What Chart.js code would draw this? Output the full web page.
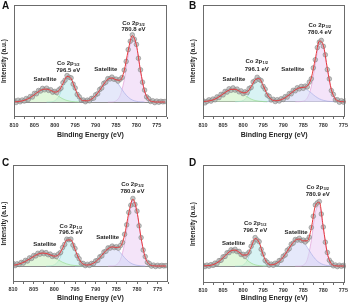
<!DOCTYPE html>
<html><head><meta charset="utf-8">
<script src="https://cdn.jsdelivr.net/npm/chart.js@4.4.1/dist/chart.umd.min.js"></script>
<style>
html,body{margin:0;padding:0;background:#fff;}
#wrap{position:relative;width:350px;height:303px;overflow:hidden;background:#fff;}
.pane{position:absolute;}
.letter{position:absolute;font:bold 10px "Liberation Sans",Arial,sans-serif;color:#111;line-height:10px;}
</style></head><body>
<div id="wrap">
<div class="pane" style="left:0;top:0;"><canvas id="cA" width="175" height="150"></canvas></div>
<div class="pane" style="left:175px;top:0;"><canvas id="cB" width="175" height="150"></canvas></div>
<div class="pane" style="left:0;top:150px;"><canvas id="cC" width="175" height="153"></canvas></div>
<div class="pane" style="left:175px;top:150px;"><canvas id="cD" width="175" height="153"></canvas></div>
<div class="letter" style="left:2px;top:1px">A</div>
<div class="letter" style="left:189px;top:1px">B</div>
<div class="letter" style="left:2px;top:158px">C</div>
<div class="letter" style="left:189px;top:158px">D</div>
</div>
<script>
const N = null;
// Binding energy grids (eV)
const energy = [810,809,808,807,806,805,804,803,802,801,800,799,798,797,796,795,794,793,792,791,790,789,788,787,786,785,784,783,782,781,780,779,778,777,776,775,774,773];
const energyFine = [810,809.5,809,808.5,808,807.5,807,806.5,806,805.5,805,804.5,804,803.5,803,802.5,802,801.5,801,800.5,800,799.5,799,798.5,798,797.5,797,796.5,796,795.5,795,794.5,794,793.5,793,792.5,792,791.5,791,790.5,790,789.5,789,788.5,788,787.5,787,786.5,786,785.5,785,784.5,784,783.5,783,782.5,782,781.5,781,780.5,780,779.5,779,778.5,778,777.5,777,776.5,776,775.5,775,774.5,774,773.5,773];
const majorTicks = [775,780,785,790,795,800,805,810];
const minorTicks = [772.5,777.5,782.5,787.5,792.5,797.5,802.5,807.5];

// ---- Panel A ----
const pointsA = [1.5,-0.5,1.8,0.2,2.0,1.0,3.5,2.6,5.5,5.0, 8.6,8.2,11.5,11.0,13.6,12.2,13.8,11.6,12.3,9.8, 10.6,9.4,12.2,13.8,19.3,21.8,26.4,24.8,24.1,17.9, 14.0,7.6,5.2,1.8,2.0,0.3,1.9,1.2,3.6,3.8, 7.2,8.3,12.5,14.0,18.6,19.8,23.4,23.0,24.9,22.7, 23.0,20.9,22.7,24.5,31.9,40.6,52.4,60.7,67.1,62.8, 57.6,43.7,32.2,19.8,11.9,5.1,3.3,0.5,1.3,-0.6, 0.9,-0.3,0.7,0.2,0.5];
const fitA = [0.1,0.4,1.1,2.4,4.5,7.4,10.4,12.5,12.9,11.6,9.9,11.4,18.3,25.5,23.4,13.2,4.5,1.3,1.2,2.9,6.4,11.7,17.8,22.6,24.0,22.2,21.8,31.1,51.7,66.4,56.9,31.4,11.0,2.5,0.4,0,0,0];
const satLowA = [0.1,0.4,1.1,2.4,4.5,7.4,10.4,12.5,12.9,11.4,8.6,5.6,3.1,1.5,0.6,0.2,0,N,N,N,N,N,N,N,N,N,N,N,N,N,N,N,N,N,N,N,N,N];
const p12A = [N,N,N,N,N,N,N,N,0,0.2,1.3,5.8,15.2,24.0,22.8,13.0,4.5,0.9,0.1,0,N,N,N,N,N,N,N,N,N,N,N,N,N,N,N,N,N,N];
const satHighA = [N,N,N,N,N,N,N,N,N,N,N,N,N,N,N,N,0,0.35,1.1,2.9,6.4,11.7,17.8,22.6,23.9,21.0,15.4,9.4,4.8,2.0,0.7,0.2,0,N,N,N,N,N];
const p32A = [N,N,N,N,N,N,N,N,N,N,N,N,N,N,N,N,N,N,N,N,N,N,N,0,0.1,1.2,6.4,21.7,46.9,64.4,56.2,31.2,11.0,2.5,0.35,0,0,0];
const notesA = [
  {e:780.7,h:78.5,t:'Co 2p',s:'3/2'},{e:780.7,h:72.5,t:'780.8 eV'},
  {e:796.7,h:38.5,t:'Co 2p',s:'1/2'},{e:796.7,h:32,t:'796.5 eV'},
  {e:787.5,h:32.5,t:'Satellite'},{e:802.4,h:22.5,t:'Satellite'}];

// ---- Panel B ----
const pointsB = [1.0,-1.2,0.3,1.9,0.6,2.7,1.9,4.8,4.1,7.4, 6.8,10.3,9.6,12.9,11.4,13.8,11.6,12.6,9.9,10.8, 8.1,9.9,9.1,13.2,14.2,19.8,21.0,24.4,22.3,21.1, 15.3,12.5,6.6,5.3,1.7,2.4,0.2,2.0,0.7,3.0, 2.2,5.1,4.6,8.1,7.9,11.4,10.9,14.0,12.8,15.3, 13.4,15.6,14.8,19.6,22.9,33.8,42.0,54.1,59.6,61.3, 55.4,46.9,32.1,22.8,11.1,7.3,1.8,2.0,-0.5,1.0, -0.4,0.8,0.2,0.5,0];
const fitB = [0.2,0.5,1.2,2.6,4.9,7.7,10.5,12.3,12.4,10.7,8.9,9.7,15.0,21.9,23.1,16.2,7.5,2.4,1.0,1.4,2.9,5.4,8.7,11.8,13.8,14.3,15.6,23.8,42.9,60.6,56.4,33.1,12.1,2.7,0.4,0,0,0];
const satLowB = [0.2,0.5,1.2,2.6,4.9,7.7,10.5,12.3,12.3,10.5,7.7,4.9,2.6,1.2,0.5,0.2,0,N,N,N,N,N,N,N,N,N,N,N,N,N,N,N,N,N,N,N,N,N];
const p12B = [N,N,N,N,N,N,N,N,0,0.2,1.2,4.8,12.4,20.7,22.6,16.0,7.4,2.2,0.4,0,N,N,N,N,N,N,N,N,N,N,N,N,N,N,N,N,N,N];
const satHighB = [N,N,N,N,N,N,N,N,N,N,N,N,N,N,N,0,0.1,0.18,0.55,1.4,2.9,5.4,8.7,11.8,13.7,13.7,11.8,8.7,5.4,2.9,1.4,0.55,0.18,0,N,N,N,N];
const p32B = [N,N,N,N,N,N,N,N,N,N,N,N,N,N,N,N,N,N,N,N,N,N,N,0,0.1,0.6,3.8,15.1,37.5,57.7,55.0,32.5,11.9,2.7,0.4,0,0,0];
const notesB = [
  {e:780.9,h:76.5,t:'Co 2p',s:'3/2'},{e:780.9,h:69.5,t:'780.4 eV'},
  {e:796.6,h:40,t:'Co 2p',s:'1/2'},{e:796.6,h:32.5,t:'796.1 eV'},
  {e:787.6,h:32.5,t:'Satellite'},{e:802.3,h:22.5,t:'Satellite'}];

// ---- Panel C ----
const pointsC = [2.6,0.4,2.2,1.5,3.6,2.9,5.6,5.0,8.1,7.6, 10.5,10.1,12.7,11.8,13.9,12.3,13.4,11.3,11.9,9.6, 10.5,9.4,12.0,13.5,18.5,21.6,26.8,26.3,26.9,20.9, 17.5,10.4,7.3,2.9,2.5,0.4,1.7,0.6,2.6,2.4, 5.1,5.6,9.1,10.1,14.0,14.8,18.1,17.9,19.9,18.4, 19.3,17.8,20.5,23.5,31.7,41.2,53.6,60.8,67.5,61.6, 54.9,40.2,28.4,16.0,9.4,3.7,2.4,-0.1,0.9,-0.5, 0.7,-0.2,0.6,0.1,0.4];
const fitC = [0.6,1.4,2.7,4.6,7.0,9.6,11.8,12.9,12.6,11.2,9.8,11.2,17.7,25.9,26.1,16.7,6.8,1.8,1.0,1.9,4.3,8.3,13.2,17.3,19.1,18.5,19.7,30.9,52.9,66.8,54.2,27.6,8.6,1.7,0.2,0,0,0];
const satLowC = [0.6,1.4,2.7,4.6,7.0,9.6,11.8,12.9,12.6,11.0,8.6,6.0,3.7,2.1,1.0,0.5,0.2,0,N,N,N,N,N,N,N,N,N,N,N,N,N,N,N,N,N,N,N,N];
const p12C = [N,N,N,N,N,N,N,N,0,0.2,1.2,5.2,14.0,23.8,25.1,16.2,6.5,1.6,0.25,0,N,N,N,N,N,N,N,N,N,N,N,N,N,N,N,N,N,N];
const satHighC = [N,N,N,N,N,N,N,N,N,N,N,N,N,N,N,0,0.05,0.2,0.7,1.9,4.3,8.3,13.2,17.3,19.0,17.3,13.2,8.3,4.3,1.9,0.7,0.2,0,N,N,N,N,N];
const p32C = [N,N,N,N,N,N,N,N,N,N,N,N,N,N,N,N,N,N,N,N,N,N,N,0,0.13,1.15,6.5,22.6,48.6,64.9,53.5,27.4,8.6,1.7,0.2,0,0,0];
const notesC = [
  {e:781.1,h:81.5,t:'Co 2p',s:'3/2'},{e:781.1,h:75,t:'780.9 eV'},
  {e:796.0,h:40,t:'Co 2p',s:'1/2'},{e:796.0,h:33.5,t:'796.5 eV'},
  {e:787.1,h:28.5,t:'Satellite'},{e:802.3,h:21.5,t:'Satellite'}];

// ---- Panel D ----
const pointsD = [0.8,-0.6,0.9,-0.2,1.4,0.6,2.9,2.5,5.4,5.7, 9.1,9.6,13.2,13.4,16.2,15.2,16.7,14.4,14.6,11.5, 11.7,9.5,12.0,13.9,19.7,23.5,28.4,26.0,24.4,16.7, 12.0,5.5,3.7,0.9,1.9,0.7,2.8,2.4,5.4,5.9, 9.7,11.1,15.6,17.3,21.8,22.9,26.5,25.9,27.7,25.5, 25.9,24.0,26.0,28.8,38.5,49.7,61.0,63.1,64.5,52.0, 39.0,23.8,13.5,5.8,3.2,0.2,1.0,-0.6,0.8,-0.3, 0.6,0.2,-0.4,0.3,0];
const fitD = [0.1,0.3,0.8,2.1,4.6,8.2,12.3,15.3,15.9,13.8,10.9,11.2,18.9,27.5,23.6,11.2,3.2,1.2,2.0,4.6,8.9,14.8,21.0,25.7,26.9,25.1,25.2,37.7,60.2,63.7,38.2,12.7,2.3,0.2,0,0,0,0];
const satLowD = [0.07,0.26,0.8,2.1,4.6,8.2,12.3,15.3,15.9,13.7,9.9,5.9,2.9,1.2,0.4,0.12,0,N,N,N,N,N,N,N,N,N,N,N,N,N,N,N,N,N,N,N,N,N];
const p12D = [N,N,N,N,N,N,N,N,0,0.1,0.95,5.3,16.0,26.3,23.2,11.1,2.9,0.4,0.03,0,N,N,N,N,N,N,N,N,N,N,N,N,N,N,N,N,N,N];
const satHighD = [N,N,N,N,N,N,N,N,N,N,N,N,N,N,N,0,0.3,0.8,2.0,4.6,8.9,14.8,21.0,25.7,26.9,24.2,18.6,12.3,6.9,3.4,1.4,0.5,0.1,0,N,N,N,N];
const p32D = [N,N,N,N,N,N,N,N,N,N,N,N,N,N,N,N,N,N,N,N,N,N,N,0,0,0.9,6.6,25.4,53.3,60.3,36.8,12.2,2.2,0.2,0,0,0,0];
const notesD = [
  {e:781.4,h:78.5,t:'Co 2p',s:'3/2'},{e:781.4,h:71.5,t:'780.9 eV'},
  {e:797.0,h:43,t:'Co 2p',s:'1/2'},{e:797.0,h:36,t:'796.7 eV'},
  {e:786.8,h:33.5,t:'Satellite'},{e:802.4,h:22.5,t:'Satellite'}];

const FONT = '"Liberation Sans", Arial, sans-serif';

const boxPlugin = {
  id: 'box',
  afterDraw(chart) {
    const {ctx, chartArea: a} = chart;
    ctx.save();
    ctx.strokeStyle = '#6b6b6b';
    ctx.lineWidth = 1;
    ctx.strokeRect(Math.round(a.left) + 0.5, Math.round(a.top) + 0.5,
                   Math.round(a.right - a.left) - 1, Math.round(a.bottom - a.top) - 1);
    ctx.restore();
  }
};

const notePlugin = {
  id: 'notes',
  afterDatasetsDraw(chart, args, opts) {
    const ctx = chart.ctx, xs = chart.scales.x, ys = chart.scales.y;
    ctx.save();
    ctx.fillStyle = '#1e1e1e';
    ctx.textBaseline = 'middle';
    ctx.textAlign = 'left';
    for (const n of opts.items || []) {
      const px = xs.getPixelForValue(n.e), py = ys.getPixelForValue(n.h);
      ctx.font = 'bold 6px ' + FONT;
      const w1 = ctx.measureText(n.t).width;
      let w2 = 0;
      if (n.s) { ctx.font = 'bold 4px ' + FONT; w2 = ctx.measureText(n.s).width + 0.3; }
      const x0 = px - (w1 + w2) / 2;
      ctx.font = 'bold 6px ' + FONT;
      ctx.fillText(n.t, x0, py);
      if (n.s) { ctx.font = 'bold 4px ' + FONT; ctx.fillText(n.s, x0 + w1 + 0.3, py + 1.6); }
    }
    ctx.restore();
  }
};

function pairs(xs, ys) { return xs.map((x, i) => ({x: x, y: ys[i]})); }

function comp(vals, fillCol, lineCol) {
  return {data: pairs(energy, vals), borderColor: lineCol, backgroundColor: fillCol,
          borderWidth: 0.7, pointRadius: 0, fill: 'origin', cubicInterpolationMode: 'monotone',
          spanGaps: false, order: 3};
}

function makePanel(id, d, L) {
  const allTicks = majorTicks.concat(minorTicks).filter(v => v >= L.xmin && v <= 810).sort((a, b) => a - b);
  new Chart(document.getElementById(id), {
    type: 'line',
    data: {datasets: [
      {data: pairs(energy, d.fit), borderColor: '#e63a3e', borderWidth: 1.0, pointRadius: 0,
       fill: false, cubicInterpolationMode: 'monotone', order: 0},
      {data: pairs(energyFine, d.points), showLine: false, pointRadius: 2.3,
       pointBackgroundColor: 'rgba(178,178,178,0.75)', pointBorderColor: 'rgba(120,120,120,0.85)',
       pointBorderWidth: 0.6, order: 1},
      comp(d.satLow, 'rgba(205,242,195,0.6)', 'rgba(150,220,140,0.9)'),
      comp(d.p12, 'rgba(195,236,238,0.65)', 'rgba(130,210,212,0.9)'),
      comp(d.satHigh, 'rgba(212,216,246,0.6)', 'rgba(165,172,230,0.9)'),
      comp(d.p32, 'rgba(238,214,246,0.65)', 'rgba(222,150,210,0.9)')
    ]},
    options: {
      responsive: false, animation: false, events: [],
      layout: {padding: {left: L.padL, right: L.padR, top: L.padT, bottom: L.padB}},
      plugins: {legend: {display: false}, tooltip: {enabled: false}, notes: {items: d.notes}},
      scales: {
        x: {
          type: 'linear', reverse: true, min: L.xmin, max: 810,
          afterBuildTicks: s => { s.ticks = allTicks.map(v => ({value: v})); },
          afterFit: s => { s.height = L.xH; },
          ticks: {autoSkip: false, maxRotation: 0, padding: L.tickPad, color: '#333',
                  font: {family: FONT, size: 5.5, weight: 'bold'},
                  callback: v => majorTicks.includes(v) ? String(v) : ''},
          grid: {drawOnChartArea: false, drawTicks: true, tickLength: 2, color: '#6b6b6b'},
          border: {display: false},
          title: {display: true, text: 'Binding Energy (eV)', color: '#1e1e1e', padding: 0,
                  font: {family: FONT, size: 7, weight: 'bold'}}
        },
        y: {
          type: 'linear', min: L.ymin, max: L.ymax,
          afterBuildTicks: s => { s.ticks = [{value: 0}]; },
          afterFit: s => { s.width = L.yW; },
          ticks: {display: false},
          grid: {drawTicks: false, color: '#8c8c8c', lineWidth: 1},
          border: {display: false},
          title: {display: true, text: 'Intensity (a.u.)', color: '#1e1e1e', padding: 0,
                  font: {family: FONT, size: 6.5, weight: 'bold'}}
        }
      }
    },
    plugins: [boxPlugin, notePlugin]
  });
}

makePanel('cA', {points: pointsA, fit: fitA, satLow: satLowA, p12: p12A, satHigh: satHighA, p32: p32A, notes: notesA},
  {xmin: 772.5, padL: 0, yW: 14, padR: 8, padT: 5, xH: 22, padB: 11, ymin: -15, ymax: 97, tickPad: 3});
makePanel('cB', {points: pointsB, fit: fitB, satLow: satLowB, p12: p12B, satHigh: satHighB, p32: p32B, notes: notesB},
  {xmin: 774.5, padL: 14, yW: 14, padR: 2, padT: 5, xH: 22, padB: 11, ymin: -15.3, ymax: 96.7, tickPad: 3});
makePanel('cC', {points: pointsC, fit: fitC, satLow: satLowC, p12: p12C, satHigh: satHighC, p32: p32C, notes: notesC},
  {xmin: 772.5, padL: 0, yW: 13, padR: 7, padT: 15, xH: 20, padB: 1, ymin: -16, ymax: 101, tickPad: 2});
makePanel('cD', {points: pointsD, fit: fitD, satLow: satLowD, p12: p12D, satHigh: satHighD, p32: p32D, notes: notesD},
  {xmin: 774.5, padL: 14, yW: 14, padR: 2, padT: 15, xH: 19, padB: 1, ymin: -17, ymax: 101, tickPad: 2});
</script>
</body></html>
